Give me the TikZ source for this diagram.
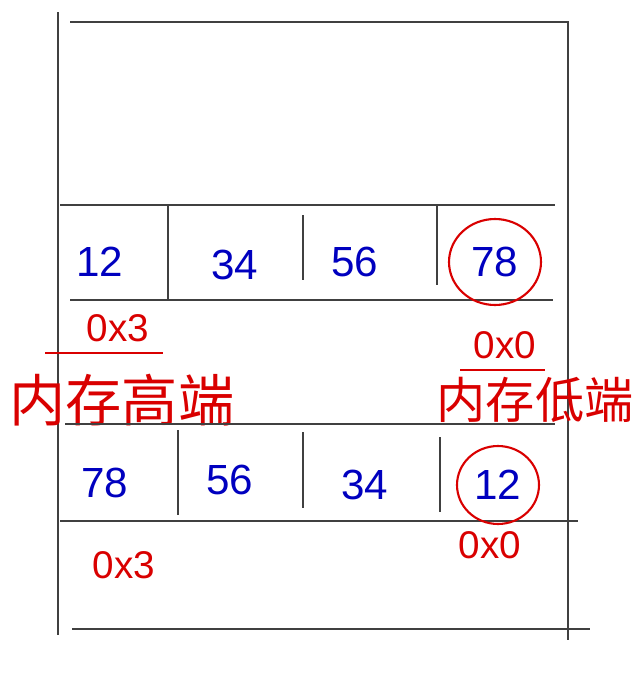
\documentclass[tikz,border=0pt]{standalone}
\usepackage{fontspec}
\setmainfont{Liberation Sans}
\newfontfamily\cjk{Noto Sans CJK SC}
\usetikzlibrary{positioning}

\begin{document}
\begin{tikzpicture}[
    x=0.02cm, y=-0.02cm,
    frame/.style={line width=1.3pt, draw=black!75},
    byte/.style={text=blue!75!black, font=\fontsize{24}{24}\selectfont, inner sep=0pt},
    addr/.style={text=red!85!black, font=\fontsize{22}{22}\selectfont, inner sep=0pt},
    tag/.style={text=red!85!black, font=\cjk\fontsize{28}{28}\selectfont, inner sep=0pt},
    ring/.style={draw=red!85!black, line width=1.2pt},
    underline/.style={draw=red!85!black, line width=1.2pt}
]
    \useasboundingbox (0,0) rectangle (637,676);

    % outer frame
    \draw[frame] (58,12) -- (58,635);
    \draw[frame] (70,22) -- (568,22) -- (568,640);
    \draw[frame] (72,629) -- (590,629);

    % big endian row
    \draw[frame] (60,205) -- (555,205);
    \draw[frame] (70,300) -- (553,300);
    \draw[frame] (168,205) -- (168,300);
    \draw[frame] (303,215) -- (303,280);
    \draw[frame] (437,205) -- (437,285);

    \node[byte] (b1) at (100,262) {12};
    \node[byte] (b2) at (235,265) {34};
    \node[byte] (b3) at (355,262) {56};
    \node[byte] (b4) at (495,262) {78};
    \draw[ring] (b4) ellipse (0.92cm and 0.86cm);

    % address labels
    \node[addr] (hiaddr) at (118,328) {0x3};
    \draw[underline] (45,353) -- (163,353);
    \node[tag, font=\cjk\fontsize{32}{32}\selectfont] (hitag) at (122,400) {内存高端};

    \node[addr] (loaddr) at (505,345) {0x0};
    \draw[underline] (460,370) -- (545,370);
    \node[tag] (lotag) at (535,400) {内存低端};

    % little endian row
    \draw[frame] (65,424) -- (555,424);
    \draw[frame] (60,521) -- (578,521);
    \draw[frame] (178,430) -- (178,515);
    \draw[frame] (303,432) -- (303,508);
    \draw[frame] (440,437) -- (440,512);

    \node[byte] (c1) at (105,483) {78};
    \node[byte] (c2) at (230,480) {56};
    \node[byte] (c3) at (365,485) {34};
    \node[byte] (c4) at (498,485) {12};
    \draw[ring] (c4) ellipse (0.82cm and 0.78cm);

    \node[addr] (hiaddr2) at (124,565) {0x3};
    \node[addr] (loaddr2) at (490,545) {0x0};
\end{tikzpicture}
\end{document}
